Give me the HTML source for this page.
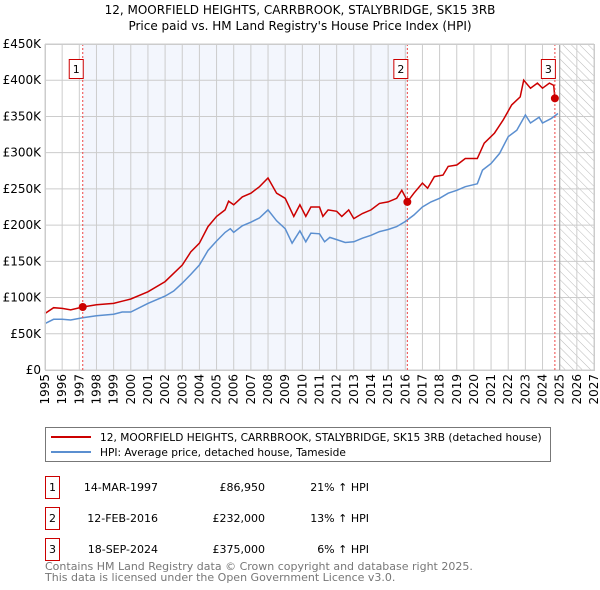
<!DOCTYPE html>
<html><head><meta charset="utf-8"><style>
body{margin:0;background:#fff;font-family:"Liberation Sans","DejaVu Sans",sans-serif;}
svg{display:block}
</style></head><body>
<svg width="600" height="590" viewBox="0 0 600 590" font-family="DejaVu Sans, Liberation Sans, sans-serif">
<defs><pattern id="hatch" width="6" height="6" patternUnits="userSpaceOnUse" patternTransform="rotate(-45)"><line x1="0" y1="0" x2="0" y2="6" stroke="#bbb" stroke-width="1"/></pattern></defs>
<text x="300" y="14" text-anchor="middle" font-size="12">12, MOORFIELD HEIGHTS, CARRBROOK, STALYBRIDGE, SK15 3RB</text>
<text x="300" y="30" text-anchor="middle" font-size="12">Price paid vs. HM Land Registry's House Price Index (HPI)</text>
<g id="plot"></g>
<g id="legend">
<rect x="45.5" y="427.5" width="505" height="34" fill="#fff" stroke="#777"/>
<line x1="51" y1="437" x2="91" y2="437" stroke="#cc0000" stroke-width="2"/>
<text x="100" y="441" font-size="10.6">12, MOORFIELD HEIGHTS, CARRBROOK, STALYBRIDGE, SK15 3RB (detached house)</text>
<line x1="51" y1="452" x2="91" y2="452" stroke="#5b8fd0" stroke-width="2"/>
<text x="100" y="456" font-size="10.6">HPI: Average price, detached house, Tameside</text>
</g>
<g id="table" font-size="11"></g>
<text x="45" y="570" font-size="11" fill="#777">Contains HM Land Registry data © Crown copyright and database right 2025.</text>
<text x="45" y="581" font-size="11" fill="#777">This data is licensed under the Open Government Licence v3.0.</text>
</svg>
<script>
const redYears=[1995,1995.5,1996,1996.5,1997.2,1998,1999,1999.5,2000,2001,2002,2003,2003.5,2004,2004.5,2005,2005.5,2005.7,2006,2006.5,2007,2007.5,2008,2008.5,2009,2009.5,2009.86,2010.2,2010.5,2011,2011.2,2011.5,2012,2012.3,2012.7,2013,2013.5,2014,2014.5,2015,2015.5,2015.8,2016.0,2016.12,2016.5,2017,2017.3,2017.7,2018.2,2018.5,2019,2019.5,2020.2,2020.6,2021.2,2021.7,2022.2,2022.7,2022.9,2023.3,2023.7,2024.0,2024.4,2024.65,2024.72];
const redVals=[78,86,85,83,87,90,92,95,98,108,122,145,163,175,198,212,221,233,228,239,244,253,265,244,237,212,228,212,225,225,212,221,219,212,221,209,216,221,230,232,237,248,239,232,244,258,251,267,269,281,283,292,292,313,327,345,366,377,400,389,396,389,396,393,375];
const blueYears=[1995,1995.5,1996,1996.5,1997.2,1998,1999,1999.5,2000,2001,2002,2002.5,2003,2003.5,2004,2004.5,2005,2005.5,2005.8,2006,2006.5,2007,2007.5,2008,2008.5,2009,2009.4,2009.86,2010.2,2010.5,2011,2011.3,2011.6,2012,2012.5,2013,2013.5,2014,2014.5,2015,2015.5,2016.0,2016.5,2017,2017.5,2018,2018.5,2019,2019.5,2020.2,2020.5,2021,2021.5,2022,2022.5,2023,2023.3,2023.8,2024.0,2024.5,2024.9];
const blueVals=[64,70,70,69,72,75,77,80,80,92,102,109,120,132,145,165,178,190,195,190,199,204,210,221,206,195,175,192,177,189,188,177,183,180,176,177,182,186,191,194,198,205,214,225,232,237,244,248,253,257,276,285,299,322,331,352,341,349,341,347,354];
const yTicks=[0,50,100,150,200,250,300,350,400,450];
const yLabels=["£0","£50K","£100K","£150K","£200K","£250K","£300K","£350K","£400K","£450K"];
const sales=[{n:"1",t:1997.2,v:86.95,d:"14-MAR-1997",p:"£86,950",h:"21% ↑ HPI"},{n:"2",t:2016.12,v:232,d:"12-FEB-2016",p:"£232,000",h:"13% ↑ HPI"},{n:"3",t:2024.72,v:375,d:"18-SEP-2024",p:"£375,000",h:"6% ↑ HPI"}];
const X0=45,X1=594,Y0=370,Y1=44,T0=1995,T1=2027;
const sx=t=>X0+(t-T0)/(T1-T0)*(X1-X0);
const sy=v=>Y0-v/450*(Y0-Y1);
const NS="http://www.w3.org/2000/svg";
const plot=document.getElementById('plot');
function mk(tag,at,parent){const e=document.createElementNS(NS,tag);for(const k in at)e.setAttribute(k,at[k]);(parent||plot).appendChild(e);return e;}
let e=mk('rect',{x:sx(sales[0].t),y:Y1,width:sx(sales[1].t)-sx(sales[0].t),height:Y0-Y1,fill:'#f3f6fd'});


e=mk('rect',{x:sx(2025),y:Y1,width:X1-sx(2025),height:Y0-Y1,fill:'url(#hatch)'});


for(let i=0;i<yTicks.length;i++){
 const y=sy(yTicks[i]);
 e=mk('line',{x1:X0,x2:X1,y1:y,y2:y,stroke:'#ccc','stroke-width':1});
 
 
 e=mk('text',{x:X0-4,y:y+4,'text-anchor':'end','font-size':12});
 e.textContent=yLabels[i];
 
 
}
for(let t=T0;t<=T1;t++){
 const x=sx(t);
 e=mk('line',{x1:x,x2:x,y1:Y1,y2:Y0,stroke:'#ccc','stroke-width':1});
 
 
 e=mk('text',{x:0,y:0,'text-anchor':'end','font-size':12,transform:`translate(${x+4},${Y0+4}) rotate(-90)`});
 e.textContent=t;
 
 
}
e=mk('line',{x1:sx(2025),x2:sx(2025),y1:Y1,y2:Y0,stroke:'#999','stroke-width':1});


function path(xs,vs){return xs.map((t,i)=>(i?'L':'M')+sx(t).toFixed(1)+','+sy(vs[i]).toFixed(1)).join('');}
e=mk('path',{d:path(blueYears,blueVals),fill:'none',stroke:'#5b8fd0','stroke-width':1.5});


e=mk('path',{d:path(redYears,redVals),fill:'none',stroke:'#cc0000','stroke-width':1.5});


const tbl=document.getElementById('table');
sales.forEach((s,i)=>{
 const x=sx(s.t);
 e=mk('line',{x1:x,x2:x,y1:Y1,y2:Y0,stroke:'#e44','stroke-width':1,'stroke-dasharray':'2,2'});
 
 
 e=mk('circle',{cx:x,cy:sy(s.v),r:4,fill:'#cc0000'});
 
 
 const g=mk('g',{});
 
 
 mk('rect',{x:x-13.5,y:59.5,width:14,height:19,fill:'#fff',stroke:'#cc0000'},g);
 const tx=mk('text',{x:x-6.5,y:73,'text-anchor':'middle','font-size':11},g);tx.textContent=s.n;
 const ry=476+i*31;
 const row=mk('g',{},tbl);
 
 
 mk('rect',{x:45.5,y:ry+0.5,width:14,height:22,fill:'#fff',stroke:'#cc0000'},row);
 let t=mk('text',{x:52.5,y:ry+15,'text-anchor':'middle'},row);t.textContent=s.n;
 t=mk('text',{x:158,y:ry+15,'text-anchor':'end'},row);t.textContent=s.d;
 t=mk('text',{x:265,y:ry+15,'text-anchor':'end'},row);t.textContent=s.p;
 t=mk('text',{x:369,y:ry+15,'text-anchor':'end'},row);t.textContent=s.h;
});
e=mk('rect',{x:X0+0.5,y:Y1+0.5,width:X1-X0,height:Y0-Y1,fill:'none',stroke:'#ccc'});


</script>
</body></html>
